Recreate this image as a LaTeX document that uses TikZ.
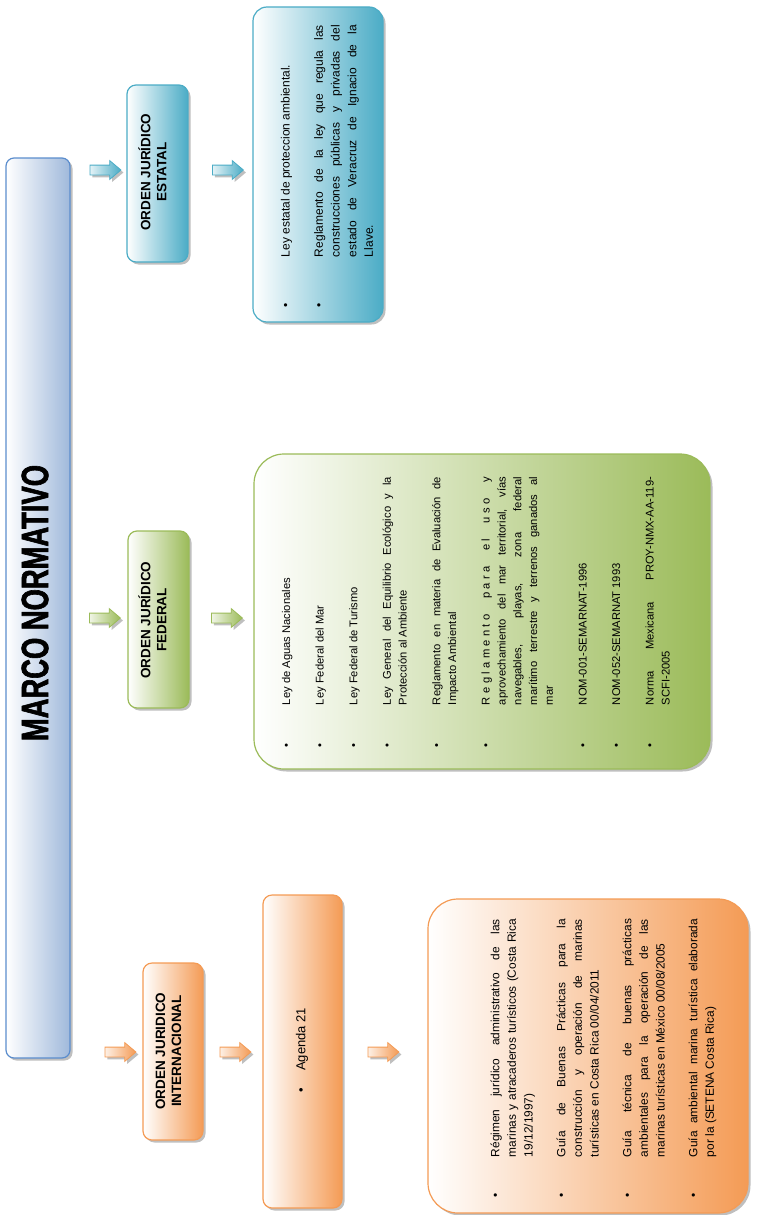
\documentclass[tikz,border=0pt]{standalone}
\usepackage{fontspec}
\setmainfont{Liberation Sans}
\newfontfamily\narrowfont[FakeStretch=0.72,FakeBold=1.6]{Liberation Sans}
\usepackage{enumitem}
\usetikzlibrary{shapes.arrows,shadows}
\definecolor{marcoline}{RGB}{91,141,205}
\definecolor{marcofill}{RGB}{160,185,219}
\definecolor{estatalcol}{RGB}{75,172,198}
\definecolor{federalcol}{RGB}{155,187,89}
\definecolor{internacol}{RGB}{244,155,85}
\setlist[itemize]{label=\textbullet,labelwidth=6pt,labelindent=0pt,align=left,topsep=0pt,partopsep=0pt,parsep=0pt}
\hyphenpenalty=10000
\begin{document}
\begin{tikzpicture}[x=1pt,y=-1pt]
            \tikzset{
                soft shadow/.style={drop shadow={shadow xshift=2.5pt,shadow yshift=-2.5pt,opacity=.25,fill=black}},
                main box/.style={draw=marcoline,line width=1.2pt,rounded corners=8pt,left color=white,right color=marcofill,soft shadow},
                title box/.style={draw=#1,line width=1.2pt,rounded corners=9pt,left color=white,right color=#1,soft shadow},
                list box/.style={draw=#1,line width=1.2pt,left color=white,right color=#1,soft shadow},
                block arrow/.style={single arrow,draw=#1,line width=.8pt,left color=#1!15,right color=#1,single arrow head extend=4.5pt,single arrow tip angle=80,minimum height=31pt,inner xsep=0pt,inner ysep=4.5pt,soft shadow},
                title text/.style={rotate=90,align=center,inner sep=0pt,font=\fontsize{13.5}{16}\selectfont\bfseries},
                list text/.style={rotate=90,align=justify,inner sep=0pt}
            }
            \useasboundingbox (0,0) rectangle (760,1215);
            \node[main box,minimum width=64pt,minimum height=900pt] (marco) at (38,608) {};
            \node[rotate=90,font=\narrowfont\fontsize{38}{40}\selectfont\bfseries] (marcotext) at (35,603) {MARCO NORMATIVO};
            \node[title box=estatalcol,minimum width=61pt,minimum height=177pt] (estatal) at (157.5,173.5) {};
            \node[title text] (estataltext) at (152.5,172) {ORDEN JURÍDICO\\ESTATAL};
            \node[title box=federalcol,minimum width=61pt,minimum height=177pt] (federal) at (158.5,619.5) {};
            \node[title text] (federaltext) at (152.5,620) {ORDEN JURÍDICO\\FEDERAL};
            \node[title box=internacol,minimum width=60pt,minimum height=177pt] (internac) at (173,1051.5) {};
            \node[title text] (internactext) at (168.5,1051) {ORDEN JURIDICO\\INTERNACIONAL};
            \node[block arrow=estatalcol] (estarrowa) at (102.5,170) {};
            \node[block arrow=estatalcol] (estarrowb) at (225,170) {};
            \node[block arrow=federalcol] (fedarrowa) at (102,618) {};
            \node[block arrow=federalcol] (fedarrowb) at (224,618) {};
            \node[block arrow=internacol] (intarrowa) at (117.5,1052) {};
            \node[block arrow=internacol] (intarrowb) at (232.5,1052) {};
            \node[block arrow=internacol] (intarrowc) at (380.5,1052) {};
            \node[list box=estatalcol,rounded corners=14pt,minimum width=130pt,minimum height=315pt] (estatallist) at (318,164.5) {};
            \node[list text,text width=282pt,font=\fontsize{12}{16.7}\selectfont] (estatalitems) at (323,166) {
                \begin{itemize}[leftmargin=50pt,labelsep=44pt,itemsep=16.6pt]
                \item Ley estatal de proteccion ambiental.
                \item Reglamento de la ley que regula las\linebreak construcciones públicas y privadas del\linebreak estado de Veracruz de Ignacio de la\linebreak Llave.
                \end{itemize}};
            \node[list box=federalcol,rounded corners=30pt,minimum width=456pt,minimum height=315pt] (federallist) at (482,611.5) {};
            \node[list text,text width=270pt,font=\fontsize{11.2}{15.8}\selectfont] (federalitems) at (472,612) {
                \begin{itemize}[leftmargin=42pt,labelsep=36pt,itemsep=17.8pt]
                \item Ley de Aguas Nacionales
                \item Ley Federal del Mar
                \item Ley Federal de Turismo
                \item Ley General del Equilibrio Ecológico y la\linebreak Protección al Ambiente
                \item Reglamento en materia de Evaluación de\linebreak Impacto Ambiental
                \item {\addfontfeature{LetterSpace=30}Reglamento para el uso y}\linebreak aprovechamiento del mar territorial, vías\linebreak navegables, playas, zona federal\linebreak marítimo terrestre y terrenos ganados al\linebreak mar
                \item NOM-001-SEMARNAT-1996
                \item NOM-052-SEMARNAT 1993
                \item Norma Mexicana PROY-NMX-AA-119-\linebreak SCFI-2005
                \end{itemize}};
            \node[list box=internacol,rounded corners=9pt,minimum width=79pt,minimum height=313pt] (agenda) at (302.5,1051.5) {};
            \node[rotate=90,font=\fontsize{13}{15}\selectfont] (agendatext) at (302,1050) {\textbullet\hspace{17pt}Agenda 21};
            \node[list box=internacol,rounded corners=30pt,minimum width=320pt,minimum height=314pt] (internaclist) at (588,1056) {};
            \node[list text,text width=278pt,font=\fontsize{11.9}{16.7}\selectfont] (internacitems) at (599.5,1058) {
                \begin{itemize}[leftmargin=40pt,labelsep=34pt,itemsep=15.9pt]
                \item Régimen jurídico administrativo de las\linebreak marinas y atracaderos turísticos (Costa Rica\linebreak 19/12/1997)
                \item Guía de Buenas Prácticas para la\linebreak construcción y operación de marinas\linebreak turísticas en Costa Rica 00/04/2011
                \item Guía técnica de buenas prácticas\linebreak ambientales para la operación de las\linebreak marinas turísticas en México 00/08/2005
                \item Guía ambiental marina turística elaborada\linebreak por la (SETENA Costa Rica)
                \end{itemize}};
\end{tikzpicture}
\end{document}
